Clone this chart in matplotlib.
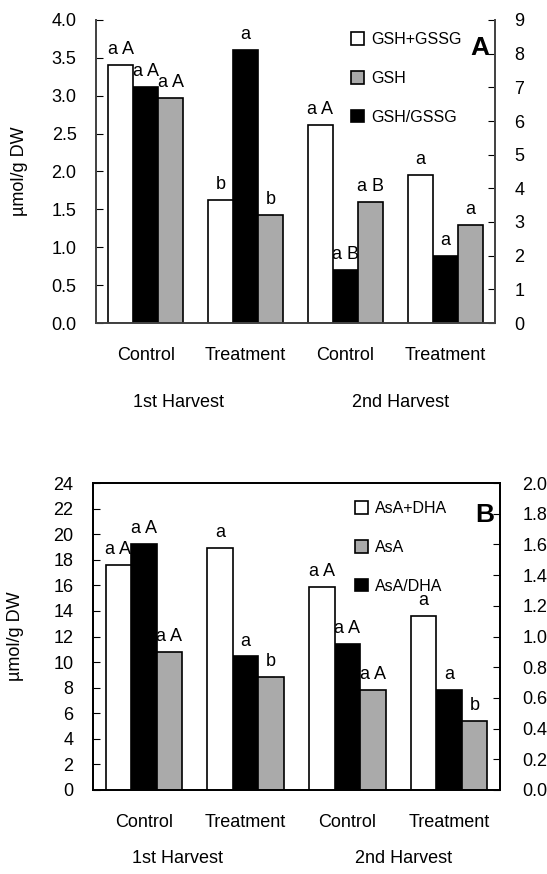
import numpy as np
import matplotlib
matplotlib.use("Agg")
import matplotlib.pyplot as plt
from matplotlib.ticker import FormatStrFormatter

plt.rcParams["font.family"] = ["Liberation Sans", "DejaVu Sans"]

# ── data ──────────────────────────────────────────────
categories = ["Control", "Treatment", "Control", "Treatment"]
harvests = ["1st Harvest", "2nd Harvest"]

# panel A (left axis: GSH+GSSG, GSH ; right axis: GSH/GSSG)
gsh_total = [3.41, 1.62, 2.61, 1.96]
gsh = [2.97, 1.43, 1.60, 1.29]
gsh_ratio = [7.0, 8.1, 1.58, 2.0]
lab_a_white = ["a A", "b", "a A", "a"]
lab_a_black = ["a A", "a", "a B", "a"]
lab_a_gray = ["a A", "b", "a B", "a"]

# panel B (left axis: AsA+DHA, AsA ; right axis: AsA/DHA)
asa_total = [17.6, 18.95, 15.9, 13.6]
asa = [10.8, 8.85, 7.8, 5.4]
asa_ratio = [1.6, 0.87, 0.95, 0.65]
lab_b_white = ["a A", "a", "a A", "a"]
lab_b_black = ["a A", "a", "a A", "a"]
lab_b_gray = ["a A", "b", "a A", "b"]

GRAY = "#aaaaaa"
W = 0.25
x = np.arange(len(categories))

fig = plt.figure(figsize=(5.47, 8.74), dpi=100)


def panel(rect, total, single, ratio, labs, names, ylim_l, ylim_r, yt_l, yt_r,
          fmt_l, fmt_r, letter, leg_anchor, letter_pos, top_spine, rpad, harv_y):
    ax = fig.add_axes(rect)
    ax2 = ax.twinx()
    ax.set_zorder(ax2.get_zorder() + 1)
    ax.patch.set_visible(False)

    b1 = ax.bar(x - W, total, W, color="white", edgecolor="black", linewidth=1.2)
    b3 = ax.bar(x + W, single, W, color=GRAY, edgecolor="black", linewidth=1.2)
    b2 = ax2.bar(x, ratio, W, color="black", edgecolor="black", linewidth=1.2)

    for bars, lab, a in ((b1, labs[0], ax), (b2, labs[1], ax2), (b3, labs[2], ax)):
        for r, t in zip(bars, lab):
            a.annotate(t, (r.get_x() + r.get_width() / 2, r.get_height()),
                       xytext=(0, 5), textcoords="offset points",
                       ha="center", va="bottom", fontsize=13, zorder=6)

    ax.set_xlim(-0.5, 3.5)
    ax.set_ylim(*ylim_l)
    ax2.set_ylim(*ylim_r)
    ax.set_yticks(yt_l)
    ax2.set_yticks(yt_r)
    ax.yaxis.set_major_formatter(FormatStrFormatter(fmt_l))
    ax2.yaxis.set_major_formatter(FormatStrFormatter(fmt_r))
    ax.set_xticks(x)
    ax.set_xticklabels(categories, fontsize=13)
    ax.tick_params(axis="x", length=0, pad=17)
    ax.tick_params(axis="y", direction="in", length=5, labelsize=13, pad=14)
    ax2.tick_params(axis="y", direction="in", length=5, labelsize=13, pad=rpad)

    ec = "#444444" if not top_spine else "black"
    for a in (ax, ax2):
        for s in a.spines.values():
            s.set_color(ec)
            s.set_linewidth(1.3)
        a.spines["top"].set_visible(top_spine)

    ax.set_ylabel("µmol/g DW", fontsize=13)
    ax.yaxis.set_label_coords(-0.17, 0.5)

    for xh, h in zip([0.33, 2.55], harvests):
        ax.text(xh, harv_y, h, transform=ax.get_xaxis_transform(),
                ha="center", va="center", fontsize=13)

    fig.legend([b1, b3, b2], names, loc="upper left",
               bbox_to_anchor=leg_anchor, bbox_transform=fig.transFigure,
               frameon=False, fontsize=11.5, handlelength=0.8, handleheight=0.8,
               handletextpad=0.45, labelspacing=1.5, borderpad=0,
               borderaxespad=0)
    fig.text(letter_pos[0], letter_pos[1], letter, fontsize=19,
             fontweight="bold", ha="center", va="center")
    return ax


panel([96 / 547, 1 - 323 / 874, 399 / 547, 303 / 874],
      gsh_total, gsh, gsh_ratio, (lab_a_white, lab_a_black, lab_a_gray),
      ["GSH+GSSG", "GSH", "GSH/GSSG"],
      (0, 4.0), (0, 9), np.arange(0, 4.01, 0.5), np.arange(0, 10, 1),
      "%.1f", "%d", "A", (351 / 547, 1 - 32 / 874), (480 / 547, 1 - 48 / 874),
      False, 14, -0.262)

panel([93 / 547, 1 - 790 / 874, 407 / 547, 307 / 874],
      asa_total, asa, asa_ratio, (lab_b_white, lab_b_black, lab_b_gray),
      ["AsA+DHA", "AsA", "AsA/DHA"],
      (0, 24), (0, 2.0), np.arange(0, 25, 2), np.arange(0, 2.01, 0.2),
      "%d", "%.1f", "B", (355 / 547, 1 - 501 / 874), (485 / 547, 1 - 515 / 874),
      True, 16, -0.222)

fig.savefig("out.png", dpi=100)
